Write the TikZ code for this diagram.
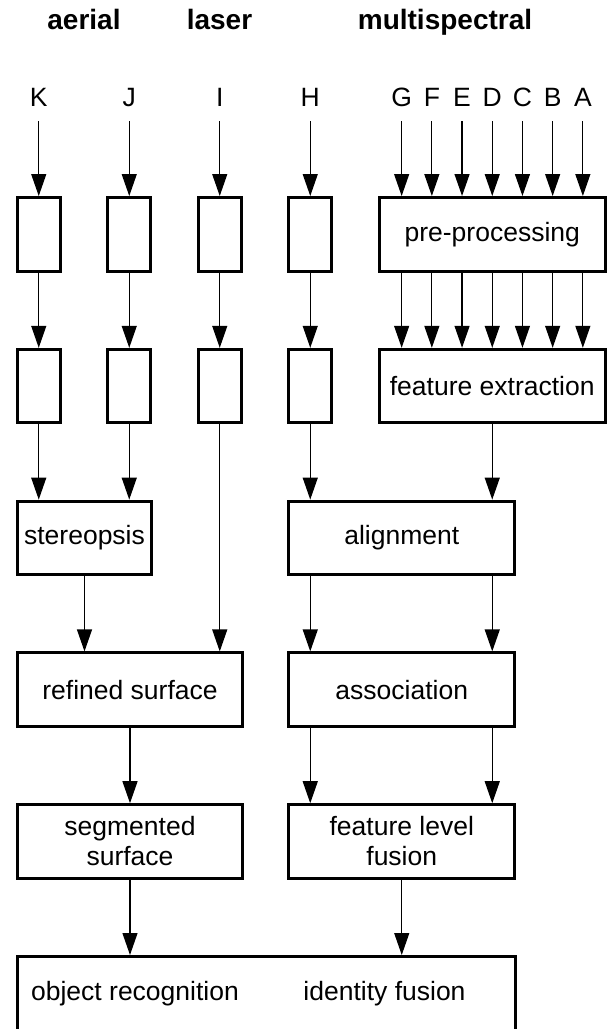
\documentclass[tikz,border=0pt]{standalone}
\usepackage{fontspec}
\setmainfont{Liberation Sans}
\usetikzlibrary{arrows.meta,positioning}
\tikzset{
  blk/.style={
    draw, line width=3pt, minimum height=73.5pt,
    inner sep=2pt, align=center,
    font=\fontsize{26.5}{30}\selectfont
  },
  slim/.style={blk, minimum width=43pt},
  src/.style={font=\fontsize{26.5}{30}\selectfont, inner sep=0pt, anchor=base},
  head/.style={font=\fontsize{28}{32}\selectfont\bfseries, inner sep=0pt, anchor=base},
  txt/.style={font=\fontsize{26.5}{30}\selectfont, inner sep=0pt},
  flow/.style={-{Triangle[length=22pt,width=15pt]}, line width=1.2pt}
}
\begin{document}
\begin{tikzpicture}[x=1pt,y=1pt,node distance=75.3pt]
  \useasboundingbox (0,0) rectangle (609,-1029);
  % sensor groups
  \node[head] (aerial) at (84,-29) {aerial};
  \node[head] (laser) at (219.5,-29) {laser};
  \node[head] (multi) at (445,-29) {multispectral};

  % first and second rows
  \node[slim] (k1) at (38.75,-234.25) {};
  \node[slim, right=44.5pt of k1] (j1) {};
  \node[slim, right=44.5pt of j1] (i1) {};
  \node[slim, right=44.5pt of i1] (h1) {};
  \node[blk, minimum width=226pt, right=44.5pt of h1] (pre) {pre-processing};
  \node[slim, below=of k1] (k2) {};
  \node[slim, below=of j1] (j2) {};
  \node[slim, below=of i1] (i2) {};
  \node[slim, below=of h1] (h2) {};
  \node[blk, minimum width=226pt, below=of pre] (feat) {feature extraction};

  % lower rows
  \node[blk, minimum width=134.5pt, below=of k2.south west, anchor=north west] (stereo) {stereopsis};
  \node[blk, minimum width=226pt, below=of h2.south west, anchor=north west] (align) {alignment};
  \node[blk, minimum width=225.5pt, below=of stereo.south west, anchor=north west] (refined) {refined surface};
  \node[blk, minimum width=226pt, below=of align.south west, anchor=north west] (assoc) {association};
  \node[blk, minimum width=225.5pt, below=of refined.south west, anchor=north west] (seg) {segmented\\surface};
  \node[blk, minimum width=226pt, below=of assoc.south west, anchor=north west] (fusion) {feature level\\fusion};
  \node[blk, minimum width=498.5pt, minimum height=75pt, below=of seg.south west, anchor=north west] (fuse) {};
  \node[txt] (objrec) at (135,-994) {object recognition};
  \node[txt] (ident) at (384.5,-994) {identity fusion};

  % channel letters
  \node[src] (lk) at (k1 |- 0,-106) {K};
  \node[src] (lj) at (j1 |- 0,-106) {J};
  \node[src] (li) at (i1 |- 0,-106) {I};
  \node[src] (lh) at (h1 |- 0,-106) {H};
  \foreach \l [count=\i] in {G,F,E,D,C,B,A}
    \node[src] (l\l) at ({371.45+30.2*\i},-106) {\l};

  \draw[flow, shorten <=15pt] (lk) -- (k1);
  \draw[flow, shorten <=15pt] (lj) -- (j1);
  \draw[flow, shorten <=15pt] (li) -- (i1);
  \draw[flow, shorten <=15pt] (lh) -- (h1);
  \foreach \l in {G,F,E,D,C,B,A} {
    \draw[flow, shorten <=15pt] (l\l) -- (l\l |- pre.north);
    \draw[flow] (pre.south -| l\l) -- (feat.north -| l\l);
  }
  \draw[flow] (k1) -- (k2);
  \draw[flow] (j1) -- (j2);
  \draw[flow] (i1) -- (i2);
  \draw[flow] (h1) -- (h2);

  \draw[flow] (k2) -- (k2 |- stereo.north);
  \draw[flow] (j2) -- (j2 |- stereo.north);
  \draw[flow] (i2) -- (i2 |- refined.north);
  \draw[flow] (h2) -- (h2 |- align.north);
  \draw[flow] (feat) -- (feat |- align.north);
  \draw[flow] (stereo) -- (stereo |- refined.north);
  \draw[flow] (align.south -| h2) -- (assoc.north -| h2);
  \draw[flow] (align.south -| feat) -- (assoc.north -| feat);
  \draw[flow] (refined) -- (seg);
  \draw[flow] (assoc.south -| h2) -- (fusion.north -| h2);
  \draw[flow] (assoc.south -| feat) -- (fusion.north -| feat);
  \draw[flow] (seg) -- (seg |- fuse.north);
  \draw[flow] (fusion) -- (fusion |- fuse.north);
\end{tikzpicture}
\end{document}
